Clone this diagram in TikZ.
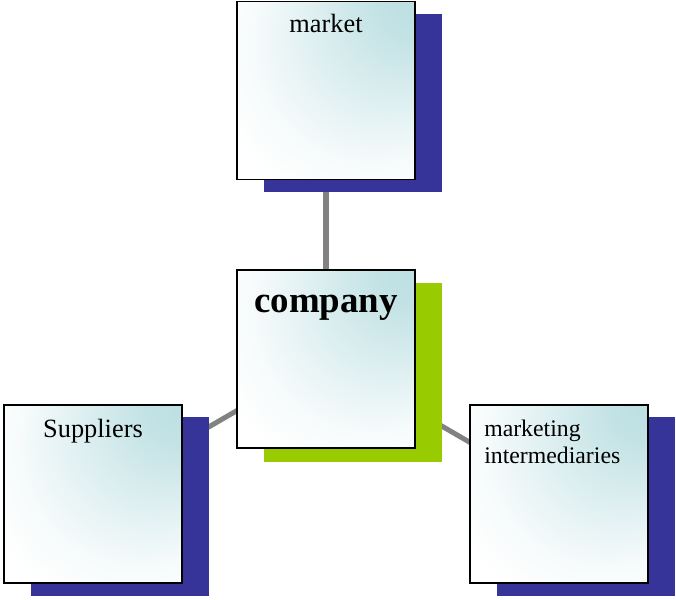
\documentclass[tikz,border=0pt]{standalone}
\usepackage{fontspec}
\setmainfont{Liberation Serif}
\usepackage{xcolor}
\usepackage{tikz}
\usetikzlibrary{shadows, backgrounds, positioning}

\definecolor{boxteal}{RGB}{186,222,225}
\definecolor{shadowblue}{RGB}{54,51,153}
\definecolor{shadowgreen}{RGB}{153,204,0}
\definecolor{linkgray}{RGB}{130,130,130}

% pale teal glow coming from the upper right corner
\pgfdeclareradialshading{tealcorner}{\pgfpoint{30bp}{30bp}}{%
    color(0bp)=(boxteal); color(10bp)=(boxteal!88); color(24bp)=(boxteal!42);
    color(34bp)=(boxteal!12); color(42bp)=(white); color(60bp)=(white)}

\tikzset{
    box/.style={draw=black, line width=1.4pt, minimum size=5.35cm, inner sep=0pt,
        shading=tealcorner},
    blueshadow/.style={general shadow={fill=shadowblue, shadow xshift=0.81cm, shadow yshift=-0.38cm}},
    greenshadow/.style={general shadow={fill=shadowgreen, shadow xshift=0.81cm, shadow yshift=-0.40cm}},
    link/.style={linkgray, line width=4.3pt},
    boxtext/.style={font=\fontsize{22.5}{27}\selectfont, inner sep=0pt}
}

\begin{document}
\begin{tikzpicture}[x=0.03cm, y=-0.03cm]
        \useasboundingbox (0,0) rectangle (676,600);
        % the four boxes
        \node[box, blueshadow] (market) at (326,90.5) {};
        \node[box, greenshadow] (company) at (326,359) {};
        \node[box, blueshadow] (suppliers) at (93,494) {};
        \node[box, blueshadow] (intermed) at (559,494) {};
        % their texts
        \node[boxtext, anchor=base] (marketTxt) at ([yshift=-0.96cm]market.north) {market};
        \node[boxtext, anchor=base, font=\bfseries\fontsize{31.5}{36}\selectfont] (companyTxt) at ([yshift=-1.29cm]company.north) {company};
        \node[boxtext, anchor=base] (suppliersTxt) at ([yshift=-0.99cm]suppliers.north) {Suppliers};
        \node[boxtext, anchor=north west, align=left, font=\fontsize{20.3}{23}\selectfont] (intermedTxt) at ([xshift=0.45cm, yshift=-0.48cm]intermed.north west) {marketing\\intermediaries};
        % links run behind the boxes
        \begin{scope}[on background layer]
        \draw[link] (company.center) -- (market.center);
        \draw[link] (company.center) -- (suppliers.center);
        \draw[link] (company.center) -- (intermed.center);
        \end{scope}
    \end{tikzpicture}
\end{document}
